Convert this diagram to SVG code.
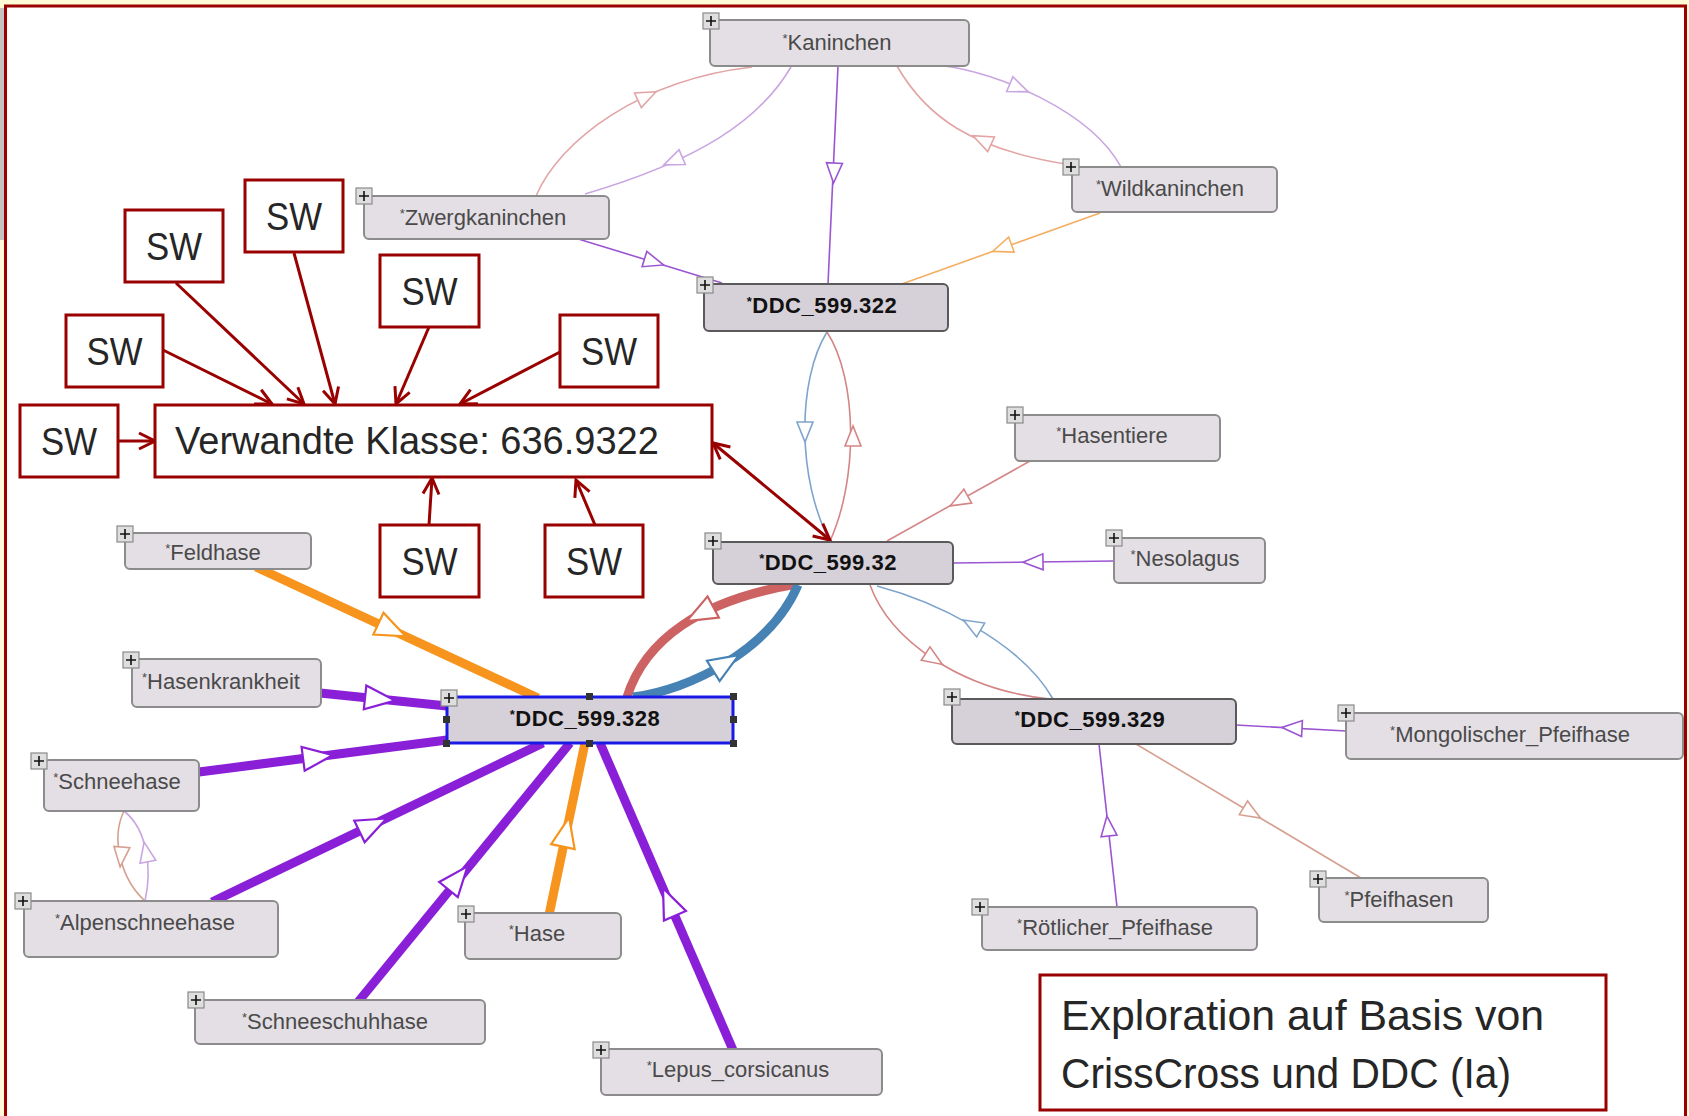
<svg xmlns="http://www.w3.org/2000/svg" xmlns:xlink="http://www.w3.org/1999/xlink" width="1689" height="1116" viewBox="0 0 1689 1116">
<style>
.bg{fill:#fffbd6}
.frame{fill:none;stroke:#990000;stroke-width:3}
.node rect.box{fill:#e4dfe5;stroke:#8c8c8c;stroke-width:2}
.ddc rect.box{fill:#d6d0d8;stroke:#5a5a5a;stroke-width:2}
.sel rect.box{stroke:#1a1ae6;stroke-width:3}
.lbl{font-family:"Liberation Sans",Arial,sans-serif;font-size:22px;fill:#4a4a4a;text-anchor:middle}
.ddc .lbl{font-weight:bold;fill:#111;letter-spacing:0.5px}
.ast{font-size:13px}
.handle{fill:#333}
.sw rect{fill:#fff;stroke:#990000;stroke-width:3}
.big{font-family:"Liberation Sans",Arial,sans-serif;font-size:38px;fill:#262626}
.sw text{text-anchor:middle}
.sw text.left{text-anchor:start}
.cap{font-size:43px}
.red{fill:none;stroke:#990000;stroke-width:3}
.e{fill:none;stroke-width:1.6}
.tri{fill:#fff;stroke-width:1.6}
.tk{fill:none;stroke-width:9}
.trk{fill:#fff;stroke-width:2.2}
.pink{stroke:#e2a4a4}
.lav{stroke:#c9a6e2}
.pur{stroke:#9b55d2}
.org{stroke:#f4ae62}
.blu{stroke:#7fa4cc}
.rd{stroke:#d48686}
.tan{stroke:#d6a090}
.kpur{stroke:#8a1fd8}
.korg{stroke:#f7941d}
.kred{stroke:#cd6262}
.kblu{stroke:#4682b4}
</style>
<defs>
<path id="t" d="M10,0 L-10,-8 L-10,8 Z"/>
<path id="T" d="M15,0 L-15,-12 L-15,12 Z"/>
<g id="plus"><rect x="0" y="0" width="16" height="16" fill="#dedede" stroke="#8a8a8a" stroke-width="1.2"/><path d="M8,3 V13 M3,8 H13" stroke="#111" stroke-width="1.6"/></g>
<marker id="v" viewBox="0 0 20 20" refX="18" refY="10" markerWidth="20" markerHeight="20" markerUnits="userSpaceOnUse" orient="auto-start-reverse"><path d="M2,2 L18,10 L2,18" fill="none" stroke="#990000" stroke-width="3"/></marker>
</defs>

<rect class="bg" x="0" y="0" width="1689" height="1116"/>
<rect x="6" y="6" width="1680" height="1112" fill="#fff"/>
<rect x="0" y="8" width="4" height="232" fill="#c4c4c4"/>
<path class="frame" d="M5.5,1116 V6 H1685.5 V1116"/>

<g id="connectors">
<!-- thin edges -->
<path class="e pink" d="M536,196 C560,140 640,80 752,67"/>
<use xlink:href="#t" class="tri pink" transform="translate(647,96) rotate(-25)"/>
<path class="e lav" d="M791,67 C760,120 700,160 585,194"/>
<use xlink:href="#t" class="tri lav" transform="translate(673,161) rotate(157)"/>
<path class="e pur" d="M838,66 L828,284"/>
<use xlink:href="#t" class="tri pur" transform="translate(834,173) rotate(92.6)"/>
<path class="e pur" d="M575,238 L722,283"/>
<use xlink:href="#t" class="tri pur" transform="translate(654,262) rotate(17)"/>
<path class="e lav" d="M944,66 C995,72 1090,110 1121,167"/>
<use xlink:href="#t" class="tri lav" transform="translate(1019,88) rotate(23)"/>
<path class="e pink" d="M897,66 C925,115 970,150 1072,165"/>
<use xlink:href="#t" class="tri pink" transform="translate(982,140) rotate(-155)"/>
<path class="e org" d="M1100,213 L899,285"/>
<use xlink:href="#t" class="tri org" transform="translate(1002,248) rotate(160)"/>
<path class="e blu" d="M827,332 C797,380 797,480 830,541"/>
<use xlink:href="#t" class="tri blu" transform="translate(805,432) rotate(90)"/>
<path class="e rd" d="M827,332 C858,380 858,480 830,541"/>
<use xlink:href="#t" class="tri rd" transform="translate(853,436) rotate(-90)"/>
<path class="e rd" d="M1030,461 L887,541"/>
<use xlink:href="#t" class="tri rd" transform="translate(959,501) rotate(151)"/>
<path class="e pur" d="M1114,561 L953,563"/>
<use xlink:href="#t" class="tri pur" transform="translate(1033,562) rotate(179)"/>
<path class="e rd" d="M870,585 C890,640 960,690 1050,699"/>
<use xlink:href="#t" class="tri rd" transform="translate(934,659) rotate(33)"/>
<path class="e blu" d="M877,586 C930,600 1020,640 1053,699"/>
<use xlink:href="#t" class="tri blu" transform="translate(972,625) rotate(-150)"/>
<path class="e pur" d="M1346,731 L1236,725"/>
<use xlink:href="#t" class="tri pur" transform="translate(1292,728) rotate(183)"/>
<path class="e pur" d="M1117,907 L1099,744"/>
<use xlink:href="#t" class="tri pur" transform="translate(1108,826) rotate(-96)"/>
<path class="e tan" d="M1136,744 L1361,878"/>
<use xlink:href="#t" class="tri tan" transform="translate(1252,813) rotate(31)"/>
<path class="e tan" d="M124,811 C110,840 122,880 145,901"/>
<use xlink:href="#t" class="tri tan" transform="translate(121,857) rotate(95)"/>
<path class="e lav" d="M145,901 C152,870 148,830 124,811"/>
<use xlink:href="#t" class="tri lav" transform="translate(146,852) rotate(-101)"/>

<!-- thick edges -->
<path class="tk korg" d="M256,567 L538,698"/>
<use xlink:href="#T" class="trk korg" transform="translate(392,630) rotate(25)"/>
<path class="tk kpur" d="M320,693 L447,706"/>
<use xlink:href="#T" class="trk kpur" transform="translate(380,699) rotate(6)"/>
<path class="tk kpur" d="M199,772 L447,740"/>
<use xlink:href="#T" class="trk kpur" transform="translate(318,757) rotate(-7.4)"/>
<path class="tk kpur" d="M212,902 L543,743"/>
<use xlink:href="#T" class="trk kpur" transform="translate(373,825) rotate(-25.7)"/>
<path class="tk kpur" d="M358,1002 L570,743"/>
<use xlink:href="#T" class="trk kpur" transform="translate(458,878) rotate(-50.7)"/>
<path class="tk korg" d="M549,915 L585,743"/>
<use xlink:href="#T" class="trk korg" transform="translate(566,832) rotate(-78)"/>
<path class="tk kpur" d="M733,1050 L600,743"/>
<use xlink:href="#T" class="trk kpur" transform="translate(669,902) rotate(-113.4)"/>
<path class="tk kred" d="M797,584 C700,600 645,640 627,697"/>
<use xlink:href="#T" class="trk kred" transform="translate(700,614) rotate(152)"/>
<path class="tk kblu" d="M633,697 C690,690 770,650 798,585"/>
<use xlink:href="#T" class="trk kblu" transform="translate(726,663) rotate(-32)"/>

<!-- annotation arrows -->
<path class="red" marker-end="url(#v)" d="M163,350 L272,404"/>
<path class="red" marker-end="url(#v)" d="M176,283 L304,404"/>
<path class="red" marker-end="url(#v)" d="M294,253 L335,404"/>
<path class="red" marker-end="url(#v)" d="M429,327 L396,404"/>
<path class="red" marker-end="url(#v)" d="M560,352 L460,404"/>
<path class="red" marker-end="url(#v)" d="M118,441 L155,441"/>
<path class="red" marker-end="url(#v)" d="M429,525 L432,478"/>
<path class="red" marker-end="url(#v)" d="M595,525 L576,480"/>
<path class="red" marker-start="url(#v)" marker-end="url(#v)" d="M713,443 L830,540"/>
</g>

<g id="n-kaninchen" class="node"><rect class="box" x="710" y="20" width="259" height="46" rx="5"/><text class="lbl" x="837" y="50"><tspan class="ast" dy="-7">*</tspan><tspan dy="7">Kaninchen</tspan></text><use xlink:href="#plus" x="703" y="13"/></g>
<g id="n-zwergkaninchen" class="node"><rect class="box" x="364" y="196" width="245" height="43" rx="5"/><text class="lbl" x="483" y="225"><tspan class="ast" dy="-7">*</tspan><tspan dy="7">Zwergkaninchen</tspan></text><use xlink:href="#plus" x="356" y="188"/></g>
<g id="n-wildkaninchen" class="node"><rect class="box" x="1072" y="167" width="205" height="45" rx="5"/><text class="lbl" x="1170" y="196"><tspan class="ast" dy="-7">*</tspan><tspan dy="7">Wildkaninchen</tspan></text><use xlink:href="#plus" x="1063" y="159"/></g>
<g id="n-ddc599322" class="node ddc"><rect class="box" x="704" y="284" width="244" height="47" rx="5"/><text class="lbl" x="822" y="313"><tspan class="ast" dy="-7">*</tspan><tspan dy="7">DDC_599.322</tspan></text><use xlink:href="#plus" x="697" y="277"/></g>
<g id="n-hasentiere" class="node"><rect class="box" x="1015" y="415" width="205" height="46" rx="5"/><text class="lbl" x="1112" y="443"><tspan class="ast" dy="-7">*</tspan><tspan dy="7">Hasentiere</tspan></text><use xlink:href="#plus" x="1007" y="407"/></g>
<g id="n-nesolagus" class="node"><rect class="box" x="1114" y="538" width="151" height="45" rx="5"/><text class="lbl" x="1185" y="566"><tspan class="ast" dy="-7">*</tspan><tspan dy="7">Nesolagus</tspan></text><use xlink:href="#plus" x="1106" y="530"/></g>
<g id="n-ddc59932" class="node ddc"><rect class="box" x="713" y="542" width="240" height="42" rx="5"/><text class="lbl" x="828" y="570"><tspan class="ast" dy="-7">*</tspan><tspan dy="7">DDC_599.32</tspan></text><use xlink:href="#plus" x="705" y="533"/></g>
<g id="n-ddc599329" class="node ddc"><rect class="box" x="952" y="699" width="284" height="45" rx="5"/><text class="lbl" x="1090" y="727"><tspan class="ast" dy="-7">*</tspan><tspan dy="7">DDC_599.329</tspan></text><use xlink:href="#plus" x="944" y="689"/></g>
<g id="n-mongolischer" class="node"><rect class="box" x="1346" y="713" width="337" height="46" rx="5"/><text class="lbl" x="1510" y="742"><tspan class="ast" dy="-7">*</tspan><tspan dy="7">Mongolischer_Pfeifhase</tspan></text><use xlink:href="#plus" x="1338" y="705"/></g>
<g id="n-pfeifhasen" class="node"><rect class="box" x="1319" y="878" width="169" height="44" rx="5"/><text class="lbl" x="1399" y="907"><tspan class="ast" dy="-7">*</tspan><tspan dy="7">Pfeifhasen</tspan></text><use xlink:href="#plus" x="1310" y="871"/></g>
<g id="n-roetlicher" class="node"><rect class="box" x="982" y="907" width="275" height="43" rx="5"/><text class="lbl" x="1115" y="935"><tspan class="ast" dy="-7">*</tspan><tspan dy="7">Rötlicher_Pfeifhase</tspan></text><use xlink:href="#plus" x="972" y="899"/></g>
<g id="n-feldhase" class="node"><rect class="box" x="125" y="533" width="186" height="36" rx="5"/><text class="lbl" x="213" y="560"><tspan class="ast" dy="-7">*</tspan><tspan dy="7">Feldhase</tspan></text><use xlink:href="#plus" x="117" y="526"/></g>
<g id="n-hasenkrankheit" class="node"><rect class="box" x="132" y="659" width="189" height="48" rx="5"/><text class="lbl" x="221" y="689"><tspan class="ast" dy="-7">*</tspan><tspan dy="7">Hasenkrankheit</tspan></text><use xlink:href="#plus" x="123" y="652"/></g>
<g id="n-schneehase" class="node"><rect class="box" x="44" y="760" width="155" height="51" rx="5"/><text class="lbl" x="117" y="789"><tspan class="ast" dy="-7">*</tspan><tspan dy="7">Schneehase</tspan></text><use xlink:href="#plus" x="31" y="753"/></g>
<g id="n-alpenschneehase" class="node"><rect class="box" x="24" y="901" width="254" height="56" rx="5"/><text class="lbl" x="145" y="930"><tspan class="ast" dy="-7">*</tspan><tspan dy="7">Alpenschneehase</tspan></text><use xlink:href="#plus" x="15" y="893"/></g>
<g id="n-hase" class="node"><rect class="box" x="465" y="913" width="156" height="46" rx="5"/><text class="lbl" x="537" y="941"><tspan class="ast" dy="-7">*</tspan><tspan dy="7">Hase</tspan></text><use xlink:href="#plus" x="458" y="906"/></g>
<g id="n-schneeschuhhase" class="node"><rect class="box" x="195" y="1000" width="290" height="44" rx="5"/><text class="lbl" x="335" y="1029"><tspan class="ast" dy="-7">*</tspan><tspan dy="7">Schneeschuhhase</tspan></text><use xlink:href="#plus" x="188" y="992"/></g>
<g id="n-lepus" class="node"><rect class="box" x="601" y="1049" width="281" height="46" rx="5"/><text class="lbl" x="738" y="1077"><tspan class="ast" dy="-7">*</tspan><tspan dy="7">Lepus_corsicanus</tspan></text><use xlink:href="#plus" x="593" y="1042"/></g>
<g id="n-ddc599328" class="node ddc sel"><rect class="box" x="447" y="697" width="286" height="46" rx="1"/><text class="lbl" x="585" y="726"><tspan class="ast" dy="-7">*</tspan><tspan dy="7">DDC_599.328</tspan></text><use xlink:href="#plus" x="441" y="690"/>
<rect class="handle" x="586" y="693" width="7" height="7"/><rect class="handle" x="730" y="693" width="7" height="7"/><rect class="handle" x="443" y="716" width="7" height="7"/><rect class="handle" x="730" y="716" width="7" height="7"/><rect class="handle" x="443" y="740" width="7" height="7"/><rect class="handle" x="586" y="740" width="7" height="7"/><rect class="handle" x="730" y="740" width="7" height="7"/></g>

<g id="verwandte" class="sw"><rect x="155" y="405" width="557" height="72"/><text class="big left" x="175" y="454">Verwandte Klasse: 636.9322</text></g>
<g id="sw1" class="sw"><rect x="125" y="210" width="98" height="72"/><text class="big" x="174" y="260" textLength="56" lengthAdjust="spacingAndGlyphs">SW</text></g>
<g id="sw2" class="sw"><rect x="245" y="180" width="98" height="72"/><text class="big" x="294" y="230" textLength="56" lengthAdjust="spacingAndGlyphs">SW</text></g>
<g id="sw3" class="sw"><rect x="380" y="255" width="99" height="72"/><text class="big" x="429.5" y="305" textLength="56" lengthAdjust="spacingAndGlyphs">SW</text></g>
<g id="sw4" class="sw"><rect x="66" y="315" width="97" height="72"/><text class="big" x="114.5" y="365" textLength="56" lengthAdjust="spacingAndGlyphs">SW</text></g>
<g id="sw5" class="sw"><rect x="560" y="315" width="98" height="72"/><text class="big" x="609" y="365" textLength="56" lengthAdjust="spacingAndGlyphs">SW</text></g>
<g id="sw6" class="sw"><rect x="20" y="405" width="98" height="72"/><text class="big" x="69" y="455" textLength="56" lengthAdjust="spacingAndGlyphs">SW</text></g>
<g id="sw7" class="sw"><rect x="380" y="525" width="99" height="72"/><text class="big" x="429.5" y="575" textLength="56" lengthAdjust="spacingAndGlyphs">SW</text></g>
<g id="sw8" class="sw"><rect x="545" y="525" width="98" height="72"/><text class="big" x="594" y="575" textLength="56" lengthAdjust="spacingAndGlyphs">SW</text></g>

<g id="caption" class="sw"><rect x="1040" y="975" width="566" height="135"/><text class="big cap left" x="1061" y="1030" textLength="483" lengthAdjust="spacingAndGlyphs">Exploration auf Basis von</text><text class="big cap left" x="1061" y="1088" textLength="450" lengthAdjust="spacingAndGlyphs">CrissCross und DDC (Ia)</text></g>
</svg>
